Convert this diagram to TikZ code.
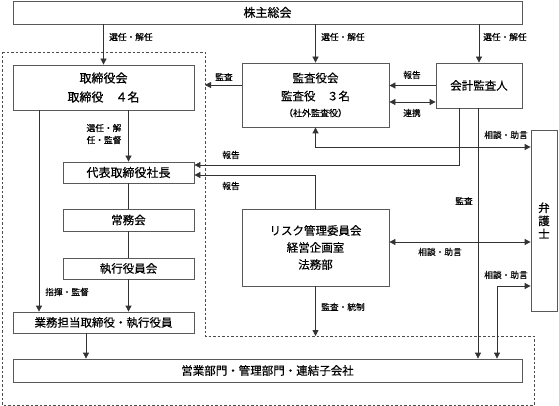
\documentclass[tikz,border=0pt]{standalone}
\usepackage{fontspec}
\setmainfont{Noto Sans CJK JP}[FakeBold=0.4]
\usetikzlibrary{arrows.meta,calc}
\begin{document}
\begin{tikzpicture}[x=1pt,y=-1pt,
  box/.style={draw=black!65, line width=0.8pt, fill=white, inner sep=0pt, align=center,
    font=\fontsize{11.5}{18}\selectfont},
  lbl/.style={inner sep=0pt, font=\fontsize{8.7}{12}\selectfont},
  conn/.style={draw=black!80, line width=0.8pt},
  arr/.style={conn, -{Triangle[length=6pt,width=6pt]}},
  arrtwo/.style={conn, {Triangle[length=6pt,width=6pt]}-{Triangle[length=6pt,width=6pt]}},
  dashline/.style={draw=black!70, line width=0.6pt, dash pattern=on 2.5pt off 2pt}
]
\useasboundingbox (0,0) rectangle (559,406);
\fill[white] (0,0) rectangle (559,406);

% dashed region
\draw[dashline] (2,52) -- (205,52) -- (205,336) -- (534,336) -- (534,405) -- (2,405) -- cycle;

% boxes
\node[box, minimum width=509pt, minimum height=23pt, font=\fontsize{12}{14}\selectfont] (kabu) at (267.5,12.5) {株主総会};
\node[box, minimum width=181pt, minimum height=45pt, font=\fontsize{12}{19}\selectfont] (tori) at (103.5,87.5) {取締役会\\取締役　４名};
\node[box, minimum width=147pt, minimum height=64pt] (kansa) at (315.5,95) {監査役会\\監査役　３名\\[-2pt]{\fontsize{9}{12}\selectfont （社外監査役）}};
\node[box, minimum width=86pt, minimum height=45pt] (kaikei) at (479,85.5) {会計監査人};
\node[box, minimum width=131pt, minimum height=21pt, font=\fontsize{12}{14}\selectfont] (daihyo) at (128.5,172.5) {代表取締役社長};
\node[box, minimum width=131pt, minimum height=22pt] (jomu) at (128.5,220) {常務会};
\node[box, minimum width=131pt, minimum height=21pt] (shikko) at (128.5,268.5) {執行役員会};
\node[box, minimum width=181pt, minimum height=21pt] (gyomu) at (103.5,322.5) {業務担当取締役・執行役員};
\node[box, minimum width=509pt, minimum height=23pt] (eigyo) at (267.5,370.5) {営業部門・管理部門・連結子会社};
\node[box, minimum width=147pt, minimum height=77pt, font=\fontsize{11.5}{17}\selectfont] (risk) at (315.5,247.5) {リスク管理委員会\\経営企画室\\法務部};
\node[box, minimum width=26pt, minimum height=181pt, font=\fontsize{11.5}{13}\selectfont] (bengo) at (544,220.5) {弁\\護\\士};

% helper coordinates
\coordinate (dashR) at (205,85);
\coordinate (renkei) at (412,102);
\coordinate (r1) at (459,165);
\coordinate (r2) at (315.5,175);
\coordinate (r3) at (315.5,147);
\coordinate (r4) at (478,0);
\coordinate (r5) at (0,242);
\coordinate (r6) at (497,286);
\coordinate (dashB) at (315.5,336);
\coordinate (xL) at (39,0);
\coordinate (xG) at (86,0);

% connectors
\draw[arr] (tori.north |- kabu.south) -- (tori.north);
\draw[arr] (kansa.north |- kabu.south) -- (kansa.north);
\draw[arr] (kaikei.north |- kabu.south) -- (kaikei.north);
\draw[arr] (kansa.west |- dashR) -- (dashR);
\draw[arr] (kaikei.west) -- (kaikei.west -| kansa.east);
\draw[arrtwo] (kansa.east |- renkei) -- (kaikei.west |- renkei);
\draw[arr] (kaikei.south -| r1) -- (r1) -- (r1 -| daihyo.east);
\draw[arr] (risk.north) -- (r2) -- (r2 -| daihyo.east);
\draw[arrtwo] (kansa.south) -- (r3) -- (r3 -| bengo.west);
\draw[arr] (kaikei.south -| r4) -- (eigyo.north -| r4);
\draw[arrtwo] (risk.east |- r5) -- (bengo.west |- r5);
\draw[arrtwo] (bengo.west |- r6) -- (r6) -- (eigyo.north -| r6);
\draw[arr] (risk.south) -- (dashB);
\draw[arr] (daihyo.north |- tori.south) -- (daihyo.north);
\draw[conn] (daihyo.south) -- (jomu.north);
\draw[conn] (jomu.south) -- (shikko.north);
\draw[arr] (shikko.south) -- (gyomu.north -| shikko.south);
\draw[arr] (tori.south -| xL) -- (gyomu.north -| xL);
\draw[arr] (gyomu.south -| xG) -- (eigyo.north -| xG);

% labels
\node[lbl, anchor=west] (l1) at (109,37) {選任・解任};
\node[lbl, anchor=west] (l2) at (321,37) {選任・解任};
\node[lbl, anchor=west] (l3) at (483,37) {選任・解任};
\node[lbl] (l4) at (224,77) {監査};
\node[lbl] (l5) at (412,75) {報告};
\node[lbl] (l6) at (412,113) {連携};
\node[lbl, align=center] (l7) at (104,134) {選任・解\\任・監督};
\node[lbl] (l8) at (231,155) {報告};
\node[lbl] (l9) at (231,186) {報告};
\node[lbl] (l10) at (506,135) {相談・助言};
\node[lbl] (l11) at (464,201) {監査};
\node[lbl] (l12) at (440,252) {相談・助言};
\node[lbl] (l13) at (506,275) {相談・助言};
\node[lbl] (l14) at (67,292) {指揮・監督};
\node[lbl] (l15) at (343,307) {監査・統制};
\end{tikzpicture}
\end{document}
